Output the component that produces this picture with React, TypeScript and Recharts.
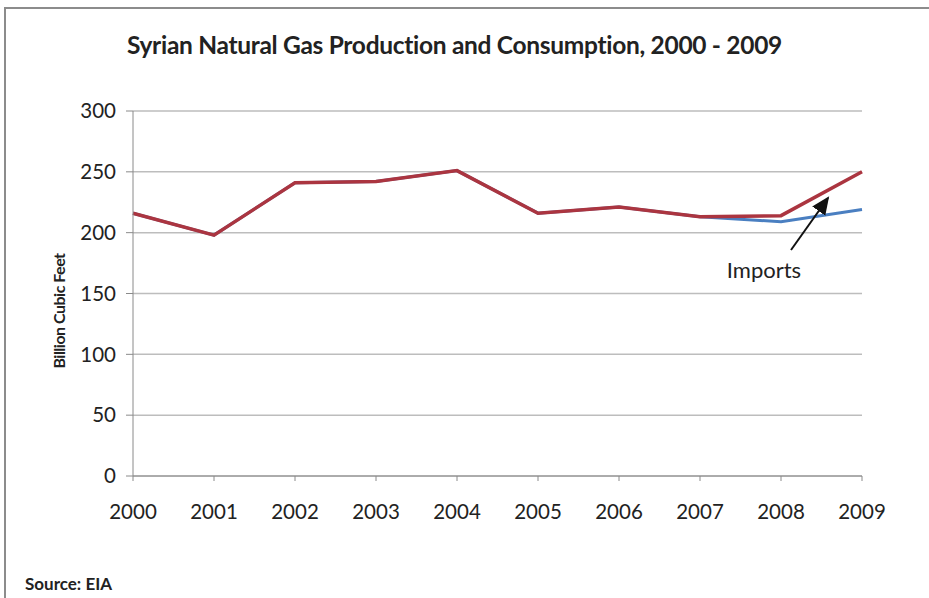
import { LineChart, Line, XAxis, YAxis, CartesianGrid } from "recharts";

const YEARS = ["2000", "2001", "2002", "2003", "2004", "2005", "2006", "2007", "2008", "2009"];
const CONSUMPTION = [216, 198, 241, 242, 251, 216, 221, 213, 214, 250];
const PRODUCTION = [216, 198, 241, 242, 251, 216, 221, 213, 209, 219];
const Y_TICKS = [0, 50, 100, 150, 200, 250, 300];

const FONT = "Lato, 'Open Sans', sans-serif";

const rows = YEARS.map((year, i) => ({
  year,
  consumption: CONSUMPTION[i],
  production: PRODUCTION[i],
}));

export default function App() {
  return (
    <div
      style={{
        position: "absolute",
        left: 0,
        top: 0,
        width: 929,
        height: 598,
        background: "#fff",
        fontFamily: FONT,
        overflow: "hidden",
      }}
    >
      <style>{`html,body{margin:0;overflow:hidden}`}</style>
      {/* frame of the original image: top and left edges only */}
      <div style={{ position: "absolute", left: 4, top: 7, width: 925, height: 2, background: "#8c8c8c" }} />
      <div style={{ position: "absolute", left: 4, top: 7, width: 2, height: 591, background: "#8c8c8c" }} />

      <div
        style={{
          position: "absolute",
          left: -10,
          top: 30,
          width: 929,
          textAlign: "center",
          fontSize: 24.5,
          fontWeight: 700,
          color: "#222",
          letterSpacing: -0.3,
        }}
      >
        Syrian Natural Gas Production and Consumption, 2000 - 2009
      </div>

      <LineChart
        width={929}
        height={598}
        data={rows}
        margin={{ top: 111, right: 67, left: 73, bottom: 82 }}
        style={{ position: "absolute", left: 0, top: 0 }}
      >
        <CartesianGrid vertical={false} stroke="#bdbdbd" strokeWidth={1.5} />
        <XAxis
          dataKey="year"
          height={40}
          stroke="#8a8a8a"
          tickSize={5}
          interval={0}
          padding={{ left: 0, right: 0 }}
          tick={{ fontSize: 20.5, fill: "#222", fontFamily: FONT, dy: 21 }}
        />
        <YAxis
          width={60}
          domain={[0, 300]}
          ticks={Y_TICKS}
          stroke="#8a8a8a"
          tickSize={7}
          tick={{ fontSize: 20.5, fill: "#222", fontFamily: FONT, dx: -8 }}
        />
        <Line
          dataKey="production"
          stroke="#4a7fc1"
          strokeWidth={3}
          dot={false}
          isAnimationActive={false}
        />
        <Line
          dataKey="consumption"
          stroke="#ab3540"
          strokeWidth={3.5}
          dot={false}
          isAnimationActive={false}
        />
      </LineChart>

      {/* y axis title */}
      <div
        style={{
          position: "absolute",
          left: 58,
          top: 311,
          transform: "translate(-50%, -50%) rotate(-90deg)",
          fontSize: 16,
          fontWeight: 700,
          whiteSpace: "nowrap",
          color: "#222",
          letterSpacing: -0.5,
        }}
      >
        Billion Cubic Feet
      </div>

      {/* imports annotation */}
      <svg
        width={929}
        height={598}
        style={{ position: "absolute", left: 0, top: 0, pointerEvents: "none" }}
      >
        <defs>
          <marker id="arrowHead" markerWidth="10" markerHeight="10" refX="8" refY="5" orient="auto">
            <path d="M0,1 L9,5 L0,9 Z" fill="#111" />
          </marker>
        </defs>
        <line x1={791} y1={250} x2={828} y2={198} stroke="#111" strokeWidth={2} markerEnd="url(#arrowHead)" />
        <text x={764} y={278} textAnchor="middle" fontSize={22} fontFamily={FONT} fill="#222">
          Imports
        </text>
        <text x={25} y={590} fontSize={17} fontWeight={700} fontFamily={FONT} fill="#222">
          Source: EIA
        </text>
      </svg>
    </div>
  );
}
